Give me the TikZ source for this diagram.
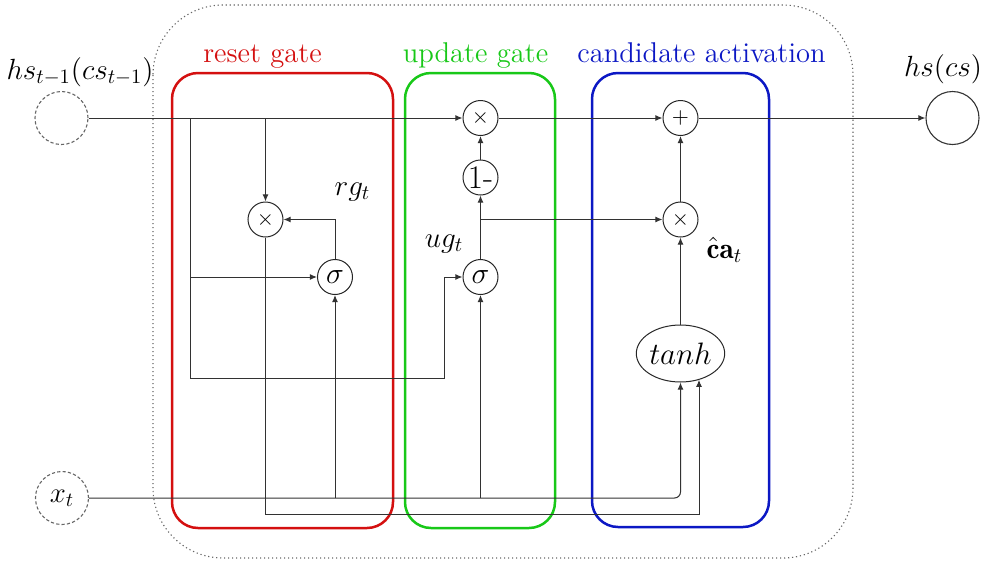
\RequirePackage{fix-cm}
\documentclass[tikz,border=0pt]{standalone}
\usepackage{fontspec}
\usetikzlibrary{arrows.meta,shapes.geometric,calc}
\definecolor{gatered}{RGB}{212,16,16}
\definecolor{gategreen}{RGB}{24,200,24}
\definecolor{gateblue}{RGB}{12,24,196}
\definecolor{wirecol}{RGB}{50,50,50}
\tikzset{
  wire/.style={draw=wirecol, line width=0.5pt},
  arr/.style={wire, -{Latex[length=3.6pt,width=3pt]}},
  op/.style={circle, draw=black!85, line width=0.5pt, minimum size=17.5pt, inner sep=0pt},
  port/.style={circle, draw=black!80, line width=0.55pt, minimum size=26.5pt, inner sep=0pt},
  ghost/.style={port, draw=black!60, dash pattern=on 1.6pt off 1.1pt},
  gatebox/.style={line width=1.25pt, rounded corners=13pt},
  title/.style={font=\fontsize{14.3}{17}\selectfont, anchor=base},
  mlabel/.style={font=\fontsize{14.6}{17}\selectfont, anchor=base},
  big/.style={font=\fontsize{15}{17}\selectfont},
  small/.style={font=\fontsize{11}{13}\selectfont},
}
\begin{document}
\begin{tikzpicture}[x=0.5pt,y=-0.5pt]
\useasboundingbox (0,0) rectangle (981,563);

% cell boundary
\draw[draw=black!60, line width=0.55pt, dash pattern=on 0.6pt off 1.4pt, rounded corners=35pt]
  (153,5) rectangle (853,558);

% gate groups
\draw[gatebox, gatered]   (172,73) rectangle (393,528);
\draw[gatebox, gategreen] (405,73) rectangle (555,528);
\draw[gatebox, gateblue]  (592,73) rectangle (769,527);
\node[title, text=gatered]   (treset)  at (262.5,62) {reset gate};
\node[title, text=gategreen] (tupdate) at (475.5,62) {update gate};
\node[title, text=gateblue]  (tcand)   at (701.5,62) {candidate activation};

% inputs and output
\node[ghost] (hin) at (61.5,118) {};
\node[port]  (hout) at (952.5,118) {};
\node[ghost, font=\fontsize{14.4}{17}\selectfont] (xt) at (62,498) {$x_t$};
\node[mlabel] (lhin)  at (80,79)  {$hs_{t-1}(cs_{t-1})$};
\node[mlabel] (lhout) at (943,76) {$hs(cs)$};

% operators
\node[op, small] (mu) at (480.5,118) {$\times$};
\node[op, font=\fontsize{16.5}{18}\selectfont] (om) at (480.5,177.5) {1-};
\node[op, big]   (su) at (480.5,277) {$\sigma$};
\node[op, small] (pl) at (680.5,118) {$+$};
\node[op, small] (m2) at (680.5,219.5) {$\times$};
\node[op, small] (mr) at (265.5,219.5) {$\times$};
\node[op, big]   (sr) at (335,277) {$\sigma$};
\node[ellipse, draw=black!85, line width=0.5pt, minimum width=38pt, minimum height=28.5pt,
      inner sep=0pt, font=\fontsize{15.5}{17}\selectfont] (th) at (680.5,353.5) {$tanh$};

% gate outputs
\node[mlabel] (lrg) at (352.5,195) {$rg_t$};
\node[mlabel] (lug) at (444,247)   {$ug_t$};
\node[mlabel] (lca) at (724.5,258) {$\hat{\mathbf{c}}\mathbf{a}_t$};

% junctions
\coordinate (ta) at (190,118);
\coordinate (tb) at (265.5,118);
\coordinate (tc) at (190,277);
\coordinate (lp) at (444,378);
\coordinate (bt) at (699,514);
\coordinate (xa) at (335,498);
\coordinate (xb) at (480.5,498);
\coordinate (ub) at (480.5,219.5);

% state path
\draw[arr] (hin) -- (mu);
\draw[arr] (mu) -- (pl);
\draw[arr] (pl) -- (hout);

% reset gate
\draw[arr] (ta) |- (lp) |- (su.west);
\draw[arr] (tc) -- (sr.west);
\draw[arr] (tb) -- (mr.north);
\draw[arr] (sr.north) |- (mr.east);
\draw[arr] (mr.south) |- (bt) -- (bt |- th.-54);

% input
\draw[arr, rounded corners=3pt] (xt) -| (th.south);
\draw[arr] (xa) -- (sr.south);
\draw[arr] (xb) -- (su.south);

% update gate
\draw[arr] (su) -- (om);
\draw[arr] (om) -- (mu);
\draw[arr] (ub) -- (m2.west);

% candidate
\draw[arr] (th) -- (m2);
\draw[arr] (m2) -- (pl);
\end{tikzpicture}
\end{document}
